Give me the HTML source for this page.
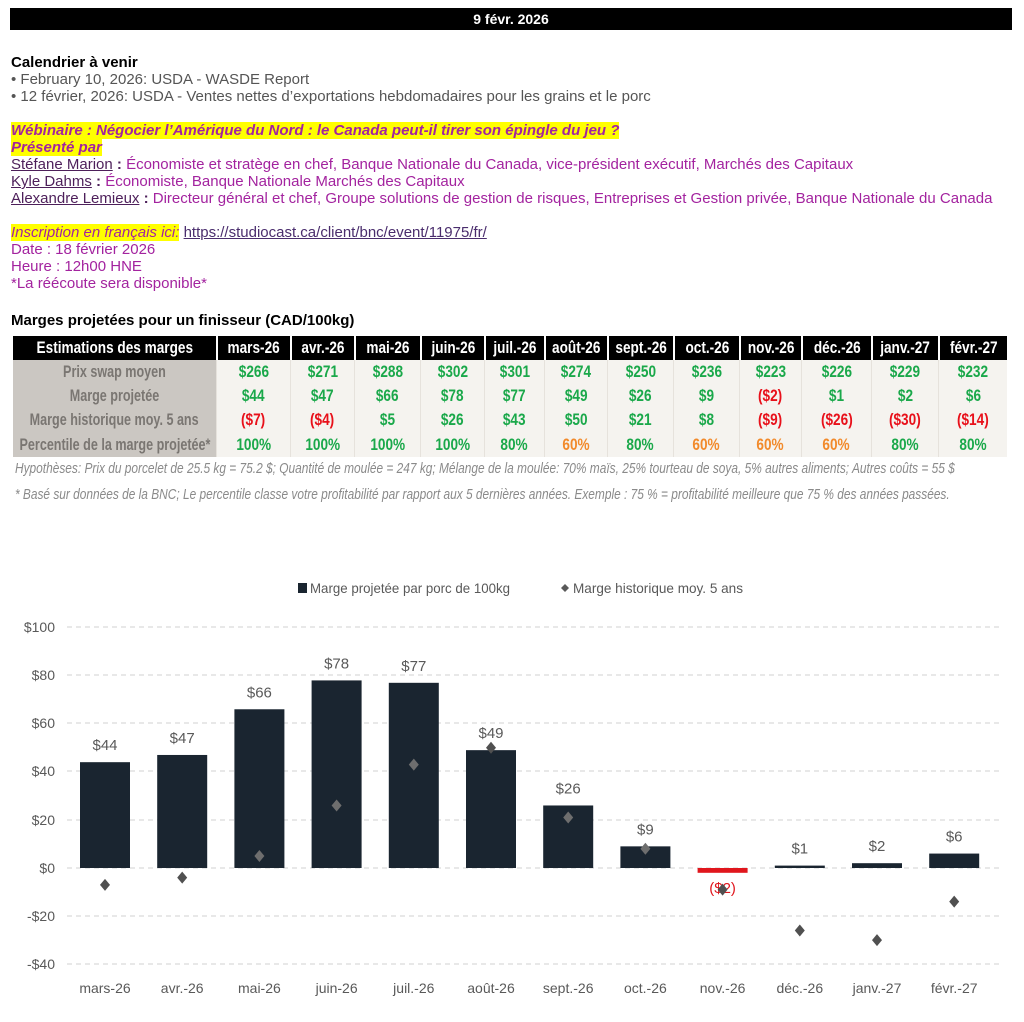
<!DOCTYPE html>
<html><head><meta charset="utf-8"><style>
*{margin:0;padding:0;box-sizing:border-box}
body{width:1024px;height:1022px;background:#fff;position:relative;overflow:hidden;font-family:"Liberation Sans",sans-serif}
.t{position:absolute;left:11px;font-size:15px;line-height:17px;white-space:nowrap}
.g{color:#555}.p{color:#a3239f}
.hl{background:#ffff00}
u.n{color:#4d1f5a;text-decoration:underline}
.c{position:absolute;display:flex;justify-content:center;align-items:center;font-weight:bold;white-space:nowrap;font-size:17px}
.c span{display:inline-block;transform:scaleX(.8)}
.c.l span{transform:scaleX(.74)}
.note{position:absolute;left:15px;font-style:italic;font-size:15px;color:#8a8a8a;white-space:nowrap;transform-origin:0 0}
</style></head><body>
<div style="position:absolute;left:10px;top:8px;width:1002px;height:22px;background:#000;color:#fff;font-weight:bold;font-size:14px;text-align:center;line-height:22px">9 févr. 2026</div>
<div class="t" style="top:54px;font-weight:bold;color:#000">Calendrier à venir</div>
<div class="t g" style="top:71px">• February 10, 2026: USDA - WASDE Report</div>
<div class="t g" style="top:88px">• 12 février, 2026: USDA - Ventes nettes d’exportations hebdomadaires pour les grains et le porc</div>
<div class="t p" style="top:122px;font-weight:bold;font-style:italic"><span class="hl">Wébinaire : Négocier l’Amérique du Nord : le Canada peut-il tirer son épingle du jeu ?</span></div>
<div class="t p" style="top:139px;font-weight:bold;font-style:italic"><span class="hl">Présenté par</span></div>
<div class="t p" style="top:156px"><u class="n">Stéfane Marion</u> <b style="color:#4d1f5a">:</b> Économiste et stratège en chef, Banque Nationale du Canada, vice-président exécutif, Marchés des Capitaux</div>
<div class="t p" style="top:173px"><u class="n">Kyle Dahms</u> <b style="color:#4d1f5a">:</b> Économiste, Banque Nationale Marchés des Capitaux</div>
<div class="t p" style="top:190px"><u class="n">Alexandre Lemieux</u> <b style="color:#4d1f5a">:</b> Directeur général et chef, Groupe solutions de gestion de risques, Entreprises et Gestion privée, Banque Nationale du Canada</div>
<div class="t p" style="top:224px"><i class="hl">Inscription en français ici:</i> <u style="color:#4a2d6d">https://studiocast.ca/client/bnc/event/11975/fr/</u></div>
<div class="t p" style="top:241px">Date : 18 février 2026</div>
<div class="t p" style="top:258px">Heure : 12h00 HNE</div>
<div class="t p" style="top:275px">*La réécoute sera disponible*</div>
<div class="t" style="top:312px;font-weight:bold;color:#000">Marges projetées pour un finisseur (CAD/100kg)</div>
<div id="tbl"></div>
<div class="note" id="n1" style="top:460px">Hypothèses: Prix du porcelet de 25.5 kg = 75.2 $; Quantité de moulée = 247 kg; Mélange de la moulée: 70% maïs, 25% tourteau de soya, 5% autres aliments; Autres coûts = 55 $</div>
<div class="note" id="n2" style="top:486px">* Basé sur données de la BNC; Le percentile classe votre profitabilité par rapport aux 5 dernières années. Exemple : 75 % = profitabilité meilleure que 75 % des années passées.</div>
<svg style="position:absolute;left:0;top:0" width="1024" height="1022" font-family="Liberation Sans, sans-serif">
<rect x="298" y="583" width="9" height="10" fill="#1a2530"/>
<text x="310" y="593" font-size="14" fill="#595959" textLength="200" lengthAdjust="spacingAndGlyphs">Marge projetée par porc de 100kg</text>
<path d="M565 584l4 4-4 4-4-4z" fill="#595959"/>
<text x="573" y="593" font-size="14" fill="#595959" textLength="170" lengthAdjust="spacingAndGlyphs">Marge historique moy. 5 ans</text>
<g stroke="#d0d0d0" stroke-dasharray="5,4" stroke-width="1">
<line x1="67" x2="1000" y1="627" y2="627"/><line x1="67" x2="1000" y1="675" y2="675"/><line x1="67" x2="1000" y1="723" y2="723"/><line x1="67" x2="1000" y1="771" y2="771"/><line x1="67" x2="1000" y1="820" y2="820"/><line x1="67" x2="1000" y1="868" y2="868"/><line x1="67" x2="1000" y1="916" y2="916"/><line x1="67" x2="1000" y1="964" y2="964"/>
</g>
<g font-size="14" fill="#595959" text-anchor="end">
<text x="55" y="632">$100</text><text x="55" y="680">$80</text><text x="55" y="728">$60</text><text x="55" y="776">$40</text><text x="55" y="825">$20</text><text x="55" y="873">$0</text><text x="55" y="921">-$20</text><text x="55" y="969">-$40</text>
</g>
<g id="c"></g>
</svg>
<script>
var b=[44,47,66,78,77,49,26,9,-2,1,2,6],h=[-7,-4,5,26,43,50,21,8,-9,-26,-30,-14],
m=["mars-26","avr.-26","mai-26","juin-26","juil.-26","août-26","sept.-26","oct.-26","nov.-26","déc.-26","janv.-27","févr.-27"],s="";
for(var i=0;i<12;i++){var x=105+i*77.2,y=868-b[i]*2.405,neg=b[i]<0;
s+='<rect x="'+(x-25)+'" y="'+Math.min(y,868)+'" width="50" height="'+Math.abs(868-y)+'" fill="'+(neg?'#e0161d':'#1a2530')+'"/>';
s+='<text x="'+x+'" y="'+(neg?y+20:y-12)+'" font-size="15" fill="'+(neg?'#e0161d':'#595959')+'" text-anchor="middle">'+(neg?'($2)':'$'+b[i])+'</text>';
var hy=868-h[i]*2.405;s+='<path d="M'+x+' '+(hy-6)+'l5 6-5 6-5-6z" fill="'+(h[i]<b[i]&&h[i]>0?'#6e6e6e':'#505050')+'"/>';
s+='<text x="'+x+'" y="993" font-size="14" fill="#595959" text-anchor="middle">'+m[i]+'</text>';}
document.getElementById("c").innerHTML=s;
var E=[13,216,290,354,420,484,544,607,673,739,801,871,938,1007],T=[336,360,384,408,432,457];
var rows=[["Estimations des marges"].concat(m),
["Prix swap moyen","$266","$271","$288","$302","$301","$274","$250","$236","$223","$226","$229","$232"],
["Marge projetée","$44","$47","$66","$78","$77","$49","$26","$9","($2)","$1","$2","$6"],
["Marge historique moy. 5 ans","($7)","($4)","$5","$26","$43","$50","$21","$8","($9)","($26)","($30)","($14)"],
["Percentile de la marge projetée*","100%","100%","100%","100%","80%","60%","80%","60%","60%","60%","80%","80%"]];
var t="";
t+='<div style="position:absolute;left:13px;top:360px;width:203px;height:97px;background:#cbc7c2"></div>';
t+='<div style="position:absolute;left:216px;top:360px;width:791px;height:97px;background:#f5f3ef"></div>';
t+='<div style="position:absolute;left:13px;top:336px;width:994px;height:24px;background:#000"></div>';
for(var r=0;r<5;r++)for(var c=0;c<13;c++){var v=rows[r][c],col;
if(r==0)col="#fff";else if(c==0)col="#7a7672";else if(v[0]=="(")col="#e8101a";else if(r==4&&v=="60%")col="#f28a2b";else col="#1aa84a";
var bl=c>0?(r==0?'border-left:2px solid #fff;':'border-left:1px solid #e6e2dc;'):'';
t+='<div class="c'+(c==0&&r>0?' l':'')+'" style="left:'+E[c]+'px;top:'+T[r]+'px;width:'+(E[c+1]-E[c])+'px;height:'+(T[r+1]-T[r])+'px;color:'+col+';'+bl+'"><span>'+v+'</span></div>';}
document.getElementById("tbl").innerHTML=t;
[["n1",940],["n2",935]].forEach(function(a){var e=document.getElementById(a[0]);e.style.transform="scaleX("+(a[1]/e.scrollWidth)+")";});
</script>
</body></html>
